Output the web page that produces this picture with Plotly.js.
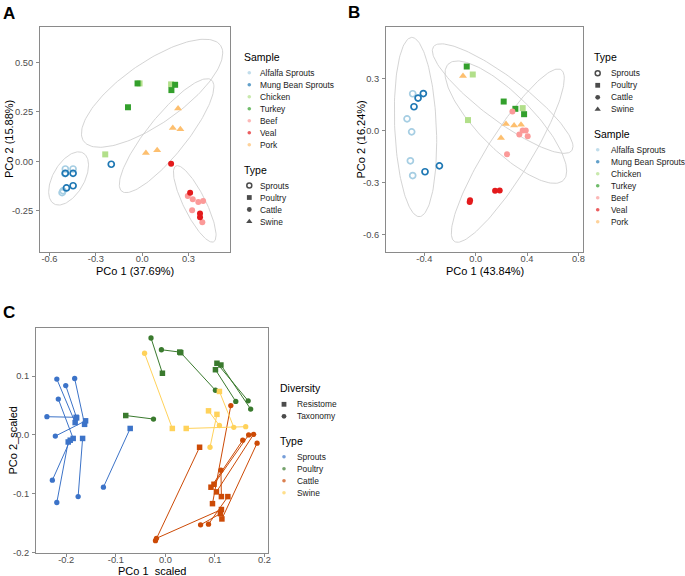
<!DOCTYPE html>
<html><head><meta charset="utf-8">
<script src="https://cdn.plot.ly/plotly-3.0.1.min.js"></script>
<style>body{margin:0;background:#fff}#chart{width:685px;height:576px}</style>
</head><body><div id="chart"></div>
<script>
// ---------- shared categories ----------
const samples = ['Alfalfa Sprouts','Mung Bean Sprouts','Chicken','Turkey','Beef','Veal','Pork'];
const sampleType = ['Sprouts','Sprouts','Poultry','Poultry','Cattle','Cattle','Swine'];
const sampleColors = ['#A6CEE3','#1F78B4','#B2DF8A','#33A02C','#FB9A99','#E31A1C','#FDBF6F'];
const types = ['Sprouts','Poultry','Cattle','Swine'];
const typeSymbols = ['circle-open','square','circle','triangle-up'];
const typeColorsC = ['#3C73C8','#3A7A2E','#CC4A06','#FFD25A'];
const diversity = ['Resistome','Taxonomy'];
const axisTitles = ['PCo 1 (37.69%)','PCo 2 (15.88%)','PCo 1 (43.84%)','PCo 2 (16.24%)','PCo 1_scaled','PCo 2_scaled'];

// ---------- Panel A (PCo 1 37.69%, PCo 2 15.88%) ----------
const A_alfalfa_x = [-0.497,-0.447,-0.512,-0.518,-0.500];
const A_alfalfa_y = [-0.039,-0.039,-0.150,-0.159,-0.062];
const A_mung_x = [-0.497,-0.447,-0.490,-0.447,-0.200];
const A_mung_y = [-0.061,-0.061,-0.135,-0.124,-0.015];
const A_chicken_x = [-0.239,-0.017,0.187];
const A_chicken_y = [0.035,0.395,0.390];
const A_turkey_x = [-0.030,0.213,0.189,-0.092];
const A_turkey_y = [0.395,0.388,0.361,0.274];
const A_beef_x = [0.295,0.327,0.363,0.394,0.323,0.389];
const A_beef_y = [-0.176,-0.193,-0.206,-0.201,-0.248,-0.309];
const A_veal_x = [0.187,0.310,0.374,0.374];
const A_veal_y = [-0.012,-0.159,-0.265,-0.284];
const A_pork_x = [0.232,0.198,0.247,0.024,0.097];
const A_pork_y = [0.268,0.169,0.162,0.042,0.056];
// ellipse per type (Sprouts, Poultry, Cattle, Swine): centre, half-extents, phase (deg)
const A_ell_cx = [-0.476,0.064,0.340,0.158];
const A_ell_cy = [-0.087,0.345,-0.216,0.130];
const A_ell_rx = [0.129,0.457,0.138,0.306];
const A_ell_ry = [0.135,0.274,0.194,0.289];
const A_ell_phi = [60,42,145,31];

// ---------- Panel B (PCo 1 43.84%, PCo 2 16.24%) ----------
const B_alfalfa_x = [-0.491,-0.535,-0.499,-0.509,-0.491];
const B_alfalfa_y = [0.212,0.067,-0.008,-0.175,-0.260];
const B_mung_x = [-0.408,-0.449,-0.481,-0.395,-0.283];
const B_mung_y = [0.213,0.187,0.137,-0.238,-0.204];
const B_chicken_x = [-0.023,-0.060,0.366];
const B_chicken_y = [0.323,0.060,0.129];
const B_turkey_x = [-0.070,0.218,0.309,0.377];
const B_turkey_y = [0.369,0.167,0.125,0.094];
const B_beef_x = [0.286,0.366,0.390,0.340,0.405,0.244];
const B_beef_y = [0.110,0.000,0.000,-0.023,-0.033,-0.137];
const B_veal_x = [0.151,0.187,-0.044,-0.047];
const B_veal_y = [-0.348,-0.346,-0.402,-0.412];
const B_pork_x = [-0.099,0.236,0.299,0.353,0.197];
const B_pork_y = [0.315,0.037,0.029,0.033,-0.044];
const B_ell_cx = [-0.469,0.210,0.250,0.235];
const B_ell_cy = [0.020,0.184,-0.145,0.048];
const B_ell_rx = [0.165,0.548,0.440,0.474];
const B_ell_ry = [0.517,0.316,0.500,0.353];
const B_ell_phi = [100,151,27,143];

// ---------- Panel C (scaled, Resistome -> Taxonomy) ----------
const C_sprouts_res_x = [-0.182,-0.179,-0.163,-0.186,-0.180,-0.161,-0.192,-0.196,-0.167,-0.071];
const C_sprouts_res_y = [0.021,0.029,0.018,-0.006,0.030,0.024,-0.009,-0.012,-0.006,0.011];
const C_sprouts_tax_x = [-0.219,-0.201,-0.183,-0.216,-0.239,-0.222,-0.228,-0.219,-0.176,-0.125];
const C_sprouts_tax_y = [0.095,0.084,0.096,0.061,0.031,-0.002,-0.077,-0.115,-0.105,-0.089];
const C_poultry_res_x = [-0.006,0.029,0.031,0.104,0.112,0.101,-0.080];
const C_poultry_res_y = [0.105,0.141,0.140,0.122,0.119,0.111,0.033];
const C_poultry_tax_x = [-0.029,-0.008,0.101,0.167,0.172,0.142,-0.024];
const C_poultry_tax_y = [0.165,0.145,0.076,0.058,0.044,0.057,0.027];
const C_cattle_res_x = [0.069,0.095,0.092,0.098,0.103,0.114,0.113,0.111,0.126,0.113];
const C_cattle_res_y = [-0.021,-0.117,-0.089,-0.084,-0.097,-0.143,-0.105,-0.134,-0.105,-0.127];
const C_cattle_tax_x = [-0.020,0.132,0.156,0.168,0.178,0.185,0.112,0.071,0.087,-0.018];
const C_cattle_tax_y = [-0.180,0.050,-0.009,0.000,0.001,-0.014,-0.060,-0.153,-0.152,-0.176];
const C_swine_res_x = [0.014,0.042,0.087,0.104,0.109];
const C_swine_res_y = [0.011,0.011,0.041,0.035,0.074];
const C_swine_tax_x = [-0.042,0.162,0.109,0.090,0.138];
const C_swine_tax_y = [0.139,0.014,0.016,-0.021,0.013];

// ---------- build ----------
const FONT = 'Liberation Sans, Arial, sans-serif';
const W = 685, H = 576;
const traces = [];
const annotations = [];

function ellipse(cx, cy, rx, ry, phiDeg) {
  const phi = phiDeg * Math.PI / 180, xs = [], ys = [];
  for (let i = 0; i <= 160; i++) {
    const t = 2 * Math.PI * i / 160;
    xs.push(cx + rx * Math.cos(t));
    ys.push(cy + ry * Math.cos(t + phi));
  }
  return [xs, ys];
}

function scatterPanel(xs, ys, ecx, ecy, erx, ery, ephi, xa, ya) {
  for (let k = 0; k < ecx.length; k++) {
    const [ex, ey] = ellipse(ecx[k], ecy[k], erx[k], ery[k], ephi[k]);
    traces.push({x: ex, y: ey, xaxis: xa, yaxis: ya, mode: 'lines', type: 'scatter',
      line: {color: '#CFCFCF', width: 0.9}, showlegend: false, hoverinfo: 'skip'});
  }
  samples.forEach((s, i) => {
    const sym = typeSymbols[types.indexOf(sampleType[i])];
    const open = sym === 'circle-open';
    traces.push({x: xs[i], y: ys[i], xaxis: xa, yaxis: ya, mode: 'markers', type: 'scatter',
      name: s, showlegend: false,
      marker: {symbol: sym, color: sampleColors[i], size: sym === 'triangle-up' ? 7 : 6,
        line: open ? {width: 1.7, color: sampleColors[i]} : {width: 0}}});
  });
}

scatterPanel([A_alfalfa_x,A_mung_x,A_chicken_x,A_turkey_x,A_beef_x,A_veal_x,A_pork_x],
             [A_alfalfa_y,A_mung_y,A_chicken_y,A_turkey_y,A_beef_y,A_veal_y,A_pork_y],
             A_ell_cx, A_ell_cy, A_ell_rx, A_ell_ry, A_ell_phi, 'x', 'y');
scatterPanel([B_alfalfa_x,B_mung_x,B_chicken_x,B_turkey_x,B_beef_x,B_veal_x,B_pork_x],
             [B_alfalfa_y,B_mung_y,B_chicken_y,B_turkey_y,B_beef_y,B_veal_y,B_pork_y],
             B_ell_cx, B_ell_cy, B_ell_rx, B_ell_ry, B_ell_phi, 'x2', 'y2');

// Panel C
const C_res_x = [C_sprouts_res_x, C_poultry_res_x, C_cattle_res_x, C_swine_res_x];
const C_res_y = [C_sprouts_res_y, C_poultry_res_y, C_cattle_res_y, C_swine_res_y];
const C_tax_x = [C_sprouts_tax_x, C_poultry_tax_x, C_cattle_tax_x, C_swine_tax_x];
const C_tax_y = [C_sprouts_tax_y, C_poultry_tax_y, C_cattle_tax_y, C_swine_tax_y];
types.forEach((t, k) => {
  const lx = [], ly = [];
  C_res_x[k].forEach((v, i) => {
    lx.push(v, C_tax_x[k][i], null);
    ly.push(C_res_y[k][i], C_tax_y[k][i], null);
  });
  traces.push({x: lx, y: ly, xaxis: 'x3', yaxis: 'y3', mode: 'lines', type: 'scatter',
    line: {color: typeColorsC[k], width: 1}, showlegend: false, hoverinfo: 'skip'});
});
types.forEach((t, k) => {
  traces.push({x: C_res_x[k], y: C_res_y[k], xaxis: 'x3', yaxis: 'y3', mode: 'markers', type: 'scatter',
    name: t + ' Resistome', showlegend: false, marker: {symbol: 'square', size: 5.5, color: typeColorsC[k]}});
  traces.push({x: C_tax_x[k], y: C_tax_y[k], xaxis: 'x3', yaxis: 'y3', mode: 'markers', type: 'scatter',
    name: t + ' Taxonomy', showlegend: false, marker: {symbol: 'circle', size: 5.3, color: typeColorsC[k]}});
});

// ---------- manual legends (drawn on an overlay pixel axis) ----------
function legendBlock(titleX, titleY, markX, textX, title, labels, syms, cols, sizes) {
  annotations.push({xref: 'x4', yref: 'y4', x: titleX, y: titleY, text: title, showarrow: false,
    xanchor: 'left', yanchor: 'middle', font: {family: FONT, size: 10.5, color: '#000'}});
  const ys = labels.map((l, i) => titleY + 16 + 12 * i);
  labels.forEach((l, i) => annotations.push({xref: 'x4', yref: 'y4', x: textX, y: ys[i], text: l,
    showarrow: false, xanchor: 'left', yanchor: 'middle', font: {family: FONT, size: 8.4, color: '#1a1a1a'}}));
  traces.push({x: labels.map(() => markX), y: ys, xaxis: 'x4', yaxis: 'y4', mode: 'markers', type: 'scatter',
    showlegend: false, hoverinfo: 'skip', cliponaxis: false,
    marker: {symbol: syms, color: cols, size: sizes, line: {width: syms.map(s => s === 'circle-open' ? 1.5 : 0), color: cols}}});
}
const black = types.map(() => '#000');
const typeSizes = [5, 4.8, 4.8, 5.5];
// A
legendBlock(241.7, 56.7, 249.3, 258, 'Sample', samples, samples.map(() => 'circle'), sampleColors, samples.map(() => 3.6));
legendBlock(241.7, 169.5, 249.3, 258, 'Type', types, typeSymbols, black, typeSizes);
// B
legendBlock(592.3, 57.3, 597.7, 608.5, 'Type', types, typeSymbols, black, typeSizes);
legendBlock(592.3, 133.7, 597.7, 608.5, 'Sample', samples, samples.map(() => 'circle'), sampleColors, samples.map(() => 3.6));
// C
legendBlock(278.3, 388.3, 284, 295, 'Diversity', diversity, ['square', 'circle'], ['#000', '#000'], [4.8, 4.8]);
legendBlock(278.3, 440.7, 284, 295, 'Type', types, types.map(() => 'circle'), typeColorsC, types.map(() => 3.6));

// panel letters
[['A', 1, 13], ['B', 346, 12], ['C', 1, 312]].forEach(([t, x, y]) => annotations.push({
  xref: 'x4', yref: 'y4', x: x, y: y, text: '<b>' + t + '</b>', showarrow: false, xanchor: 'left', yanchor: 'middle',
  font: {family: FONT, size: 17, color: '#000'}}));

// axis titles (placed beside each panel)
const titlePos = [[135, 270.5, 0], [8.5, 139.5, -90], [484.5, 270.5, 0], [360, 139.5, -90], [152, 570.5, 0], [12, 440.5, -90]];
axisTitles.forEach((t, i) => annotations.push({xref: 'x4', yref: 'y4', x: titlePos[i][0], y: titlePos[i][1],
  text: t, textangle: titlePos[i][2], showarrow: false, xanchor: 'center', yanchor: 'middle',
  font: {family: FONT, size: 11, color: '#000'}}));

// ---------- axes ----------
function ax(domain, range, tickvals, ticktext, anchor, isY) {
  return {domain: domain, range: range, tickvals: tickvals, ticktext: ticktext, anchor: anchor,
    showline: true, mirror: true, linecolor: '#8A8A8A', linewidth: 1, ticks: 'outside', ticklen: 3,
    tickcolor: '#8A8A8A', tickwidth: 1, showgrid: false, zeroline: false,
    ticklabelstandoff: isY ? 1 : -5,
    tickfont: {family: FONT, size: 9.3, color: '#4D4D4D'}};
}
const layout = {
  width: W, height: H, margin: {l: 0, r: 0, t: 0, b: 0}, paper_bgcolor: '#fff', plot_bgcolor: 'rgba(0,0,0,0)',
  showlegend: false, font: {family: FONT},
  xaxis: ax([40/W, 230/W], [-0.661, 0.568], [-0.6, -0.3, 0, 0.3], ['-0.6', '-0.3', '0.0', '0.3'], 'y', false),
  yaxis: ax([1 - 252/H, 1 - 27/H], [-0.46, 0.681], [-0.25, 0, 0.25, 0.5], ['-0.25', '0.00', '0.25', '0.50'], 'x', true),
  xaxis2: ax([386/W, 583/W], [-0.699, 0.836], [-0.4, 0, 0.4, 0.8], ['-0.4', '0.0', '0.4', '0.8'], 'y2', false),
  yaxis2: ax([1 - 252/H, 1 - 27/H], [-0.701, 0.597], [-0.6, -0.3, 0, 0.3], ['-0.6', '-0.3', '0.0', '0.3'], 'x2', true),
  xaxis3: ax([36/W, 268/W], [-0.261, 0.207], [-0.2, -0.1, 0, 0.1, 0.2], ['-0.2', '-0.1', '0.0', '0.1', '0.2'], 'y3', false),
  yaxis3: ax([1 - 553/H, 1 - 328/H], [-0.201, 0.182], [-0.2, -0.1, 0, 0.1], ['-0.2', '-0.1', '0.0', '0.1'], 'x3', true),
  xaxis4: {domain: [0, 1], range: [0, W], visible: false, anchor: 'y4', fixedrange: true},
  yaxis4: {domain: [0, 1], range: [H, 0], visible: false, anchor: 'x4', fixedrange: true},
  annotations: annotations
};
Plotly.newPlot('chart', traces, layout, {displayModeBar: false, staticPlot: true});
</script></body></html>
